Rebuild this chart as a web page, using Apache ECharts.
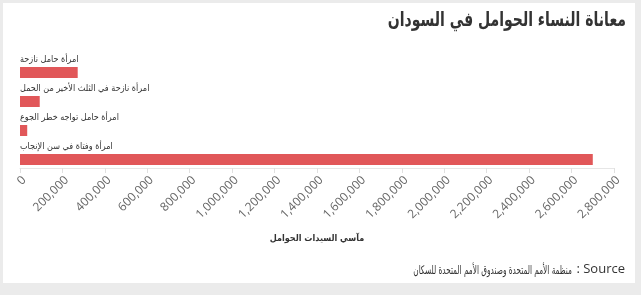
<!DOCTYPE html>
<html><head><meta charset="utf-8">
<script src="https://cdn.jsdelivr.net/npm/echarts@6/dist/echarts.min.js"></script>
<style>html,body{margin:0;padding:0;background:#ebebeb;}#c{width:641px;height:295px;}</style>
</head><body><div id="c"></div>
<script>
const categories = ["امرأة حامل نازحة","امرأة نازحة في الثلث الأخير من الحمل","امرأة حامل تواجه خطر الجوع","امرأة وفتاة في سن الإنجاب"];
const values = [272000, 93000, 34000, 2700000];
const titleText = "معاناة النساء الحوامل في السودان";
const axisTitle = "مآسي السيدات الحوامل";
const sourceWord = "Source";
const sourceColon = ":";
const sourceText = "منظمة الأمم المتحدة وصندوق الأمم المتحدة للسكان";

const chart = echarts.init(document.getElementById('c'));
chart.setOption({
  backgroundColor: '#ebebeb',
  animation: false,
  graphic: [
    {type:'rect', shape:{x:3,y:3,width:632,height:280}, style:{fill:'#fff'}, z:-10},
    {type:'text', x: 626, y: 11, scaleX: 0.78,
      style:{text:titleText, font:'bold 20px "DejaVu Sans Condensed", "DejaVu Sans", sans-serif', fill:'#333', textAlign:'right', textVerticalAlign:'top'}},
    {type:'text', x: 625, y: 263,
      style:{text:sourceWord, font:'13px "Open Sans", sans-serif', fill:'#333', textAlign:'right', textVerticalAlign:'top'}},
    {type:'text', x: 580, y: 263,
      style:{text:sourceColon, font:'13px "Open Sans", sans-serif', fill:'#333', textAlign:'right', textVerticalAlign:'top'}},
    {type:'text', x: 572, y: 265, scaleX: 0.68,
      style:{text:sourceText, font:'12px "DejaVu Sans Condensed", "DejaVu Sans", sans-serif', fill:'#333', textAlign:'right', textVerticalAlign:'top'}}
  ],
  grid: {left: 20, right: 27, top: 58, height: 116},
  xAxis: {
    type: 'value', min: 0, max: 2800000, interval: 200000, offset: -6,
    axisLine: {show: true, lineStyle: {color: '#e6e6e6'}},
    axisTick: {show: true, length: 5, lineStyle: {color: '#e0e0e0'}},
    splitLine: {show: false},
    axisLabel: {rotate: 45, color: '#666', fontSize: 12, fontFamily: '"Open Sans", sans-serif', margin: 6,
      verticalAlign: 'top', formatter: v => v.toLocaleString('en-US')},
    name: axisTitle, nameLocation: 'middle', nameGap: 66,
    nameTextStyle: {fontWeight: 'bold', fontSize: 9, color: '#333', fontFamily: '"DejaVu Sans Condensed", "DejaVu Sans", sans-serif'}
  },
  yAxis: {type: 'category', data: categories, inverse: true, show: false},
  series: [{
    type: 'bar', data: values, barWidth: 11,
    itemStyle: {color: '#e15759'},
    label: {show: true, position: [0, -12], formatter: '{b}', color: '#333', fontSize: 9,
      fontFamily: '"DejaVu Sans Condensed", "DejaVu Sans", sans-serif'}
  }]
});
</script></body></html>
